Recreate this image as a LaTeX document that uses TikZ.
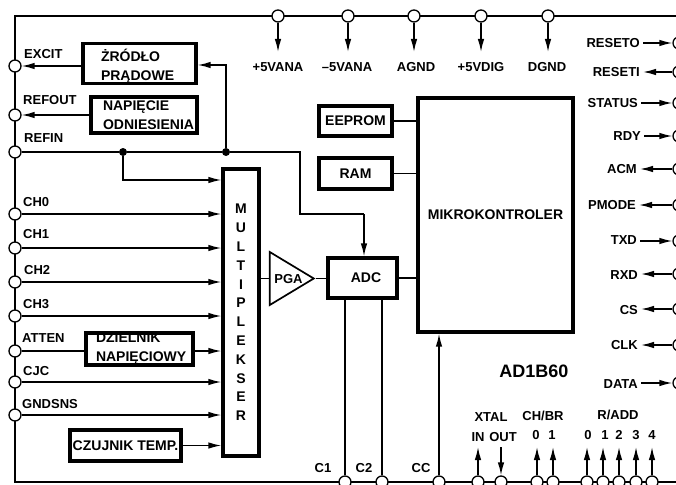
\documentclass[tikz,border=0pt]{standalone}
\usepackage{fontspec}
\setmainfont{Liberation Sans}
\usetikzlibrary{arrows.meta,shapes.geometric}
\begin{document}
\begin{tikzpicture}[
  x=1pt, y=-1pt,
  font=\fontsize{13}{15}\selectfont\bfseries,
  frame/.style={line width=1.7pt},
  port/.style={circle, draw, fill=white, line width=1.3pt, inner sep=0pt, minimum size=12pt},
  block/.style={draw, line width=3.3pt, inner sep=0pt, align=center, font=\fontsize{14}{19}\selectfont\bfseries},
  wire/.style={line width=1.4pt},
  arrow/.style={wire, -{Latex[length=13pt,width=6.5pt]}},
  joint/.style={circle, fill=black, inner sep=0pt, minimum size=8pt},
  signal/.style={inner sep=3pt, anchor=west},
  pinname/.style={inner sep=3pt, anchor=east},
]
\def\xleft{15}
\def\xright{679}
\def\ytop{16}
\def\ybot{482}

\path[use as bounding box] (0,0) rectangle (676,484);

% obudowa
\draw[frame] (676,\ytop) -- (\xleft,\ytop) -- (\xleft,\ybot) -- (676,\ybot);

% bloki
\node[block, align=left, text width=77pt, minimum width=113pt, minimum height=35pt] (zrodlo) at (139.5,63.5) {\rule{0pt}{18pt}ŻRÓDŁO\\\mbox{PRĄDOWE}};
\node[block, align=left, text width=82pt, minimum width=106pt, minimum height=36pt] (napiecie) at (144,115) {\mbox{NAPIĘCIE}\\\mbox{ODNIESIENIA}};
\node[block, align=left, text width=87pt, minimum width=107pt, minimum height=32pt] (dzielnik) at (139.5,349) {\mbox{DZIELNIK}\\\mbox{NAPIĘCIOWY}};
\node[block, minimum width=111pt, minimum height=31pt] (czujnik) at (125.5,445.5) {CZUJNIK TEMP.};
\node[block, minimum width=36pt, minimum height=287pt, font=\fontsize{14}{18.8}\selectfont\bfseries] (mux) at (241,312.5) {M\\U\\L\\T\\I\\P\\L\\E\\K\\S\\E\\R};
\node[draw, line width=1.7pt, isosceles triangle, isosceles triangle stretches, minimum height=44pt, minimum width=53pt, inner sep=0pt, anchor=apex] (pga) at (316,278.5) {};
\node[inner sep=0pt] (pgatext) at (288.5,279) {PGA};
\node[block, minimum width=69pt, minimum height=40pt] (adc) at (362.5,278) {\hspace*{7pt}ADC};
\node[block, minimum width=73pt, minimum height=30pt] (eeprom) at (355.5,121) {EEPROM};
\node[block, minimum width=73pt, minimum height=31pt] (ram) at (355.5,173.5) {RAM};
\node[block, minimum width=155pt, minimum height=234pt] (mikro) at (495.5,215) {MIKROKONTROLER};
\node[font=\fontsize{18}{20}\selectfont\bfseries] (typ) at (534,371) {AD1B60};

% piny u gory
\node[port] (pvana) at (278,\ytop) {};
\node[port] (mvana) at (348,\ytop) {};
\node[port] (agnd) at (414,\ytop) {};
\node[port] (vdig) at (481,\ytop) {};
\node[port] (dgnd) at (548,\ytop) {};
\coordinate (topend) at (0,52);
\node (lpvana) at (278,67) {+5VANA};
\node (lmvana) at (347,67) {–5VANA};
\node (lagnd) at (416,67) {AGND};
\node (lvdig) at (481,67) {+5VDIG};
\node (ldgnd) at (547,67) {DGND};

% piny z lewej
\node[port] (excit) at (\xleft,66) {};
\node[port] (refout) at (\xleft,115) {};
\node[port] (refin) at (\xleft,152) {};
\node[port] (chzero) at (\xleft,214) {};
\node[port] (chone) at (\xleft,248) {};
\node[port] (chtwo) at (\xleft,282) {};
\node[port] (chthree) at (\xleft,316) {};
\node[port] (atten) at (\xleft,351) {};
\node[port] (cjc) at (\xleft,382) {};
\node[port] (gndsns) at (\xleft,415) {};
\node[signal] (lexcit) at (21,54) {EXCIT};
\node[signal] (lrefout) at (20,100) {REFOUT};
\node[signal] (lrefin) at (21,138) {REFIN};
\node[signal] (lchzero) at (20,202) {CH0};
\node[signal] (lchone) at (20,234) {CH1};
\node[signal] (lchtwo) at (21,270) {CH2};
\node[signal] (lchthree) at (20,304) {CH3};
\node[signal] (latten) at (19,338) {ATTEN};
\node[signal] (lcjc) at (20,371) {CJC};
\node[signal] (lgndsns) at (19,404) {GNDSNS};

% piny z prawej
\node[port] (reseto) at (\xright,43) {};
\node[port] (reseti) at (\xright,72) {};
\node[port] (status) at (\xright,103) {};
\node[port] (rdy) at (\xright,136) {};
\node[port] (acm) at (\xright,169) {};
\node[port] (pmode) at (\xright,205) {};
\node[port] (txd) at (\xright,241) {};
\node[port] (rxd) at (\xright,274) {};
\node[port] (cs) at (\xright,309) {};
\node[port] (clk) at (\xright,345) {};
\node[port] (data) at (\xright,383) {};
\node[pinname] (lreseto) at (643,43) {RESETO};
\node[pinname] (lreseti) at (643,72) {RESETI};
\node[pinname] (lstatus) at (641,103) {STATUS};
\node[pinname] (lrdy) at (644,136) {RDY};
\node[pinname] (lacm) at (640,169) {ACM};
\node[pinname] (lpmode) at (639,205) {PMODE};
\node[pinname] (ltxd) at (640,240) {TXD};
\node[pinname] (lrxd) at (641,275) {RXD};
\node[pinname] (lcs) at (641,310) {CS};
\node[pinname] (lclk) at (641,345) {CLK};
\node[pinname] (ldata) at (641,384) {DATA};

% piny na dole
\node[port] (cone) at (345,\ybot) {};
\node[port] (ctwo) at (382,\ybot) {};
\node[port] (cc) at (439,\ybot) {};
\node[port] (xin) at (478,\ybot) {};
\node[port] (xout) at (501,\ybot) {};
\node[port] (brzero) at (537,\ybot) {};
\node[port] (brone) at (553,\ybot) {};
\node[port] (addzero) at (587,\ybot) {};
\node[port] (addone) at (603,\ybot) {};
\node[port] (addtwo) at (619,\ybot) {};
\node[port] (addthree) at (636,\ybot) {};
\node[port] (addfour) at (652,\ybot) {};
\coordinate (botend) at (0,447);
\node (lcone) at (323,468) {C1};
\node (lctwo) at (364,468) {C2};
\node (lcc) at (421,468) {CC};
\node (lxtal) at (491,417) {XTAL};
\node (lxin) at (478,437) {IN};
\node (lxout) at (503,437) {OUT};
\node (lchbr) at (543,416) {CH/BR};
\node (lbrzero) at (536,435) {0};
\node (lbrone) at (552,435) {1};
\node (lradd) at (618,415) {R/ADD};
\node (laddzero) at (588,435) {0};
\node (laddone) at (605,435) {1};
\node (laddtwo) at (619,435) {2};
\node (laddthree) at (636,435) {3};
\node (laddfour) at (652,435) {4};

% polaczenia wewnetrzne
\node[joint] (jmux) at (123,152) {};
\node[joint] (jsrc) at (226,152) {};
\coordinate (benda) at (300,152);
\coordinate (bendb) at (300,214);
\coordinate (bendc) at (364,214);
\coordinate (bendd) at (123,180);
\coordinate (bende) at (226,65);

\draw[wire] (refin) -- (jmux) -- (jsrc) -- (benda) -- (bendb) -- (bendc);
\draw[arrow] (bendc) -- (bendc |- adc.north);
\draw[arrow] (jmux) -- (bendd) -- (bendd -| mux.west);
\draw[arrow] (jsrc) -- (bende) -- (bende -| zrodlo.east);
\draw[arrow] (zrodlo.west |- excit) -- (excit);
\draw[arrow] (napiecie.west) -- (refout);

\draw[arrow] (chzero) -- (chzero -| mux.west);
\draw[arrow] (chone) -- (chone -| mux.west);
\draw[arrow] (chtwo) -- (chtwo -| mux.west);
\draw[arrow] (chthree) -- (chthree -| mux.west);
\draw[wire] (atten) -- (atten -| dzielnik.west);
\draw[arrow] (atten -| dzielnik.east) -- (atten -| mux.west);
\draw[arrow] (cjc) -- (cjc -| mux.west);
\draw[arrow] (gndsns) -- (gndsns -| mux.west);
\draw[arrow] (czujnik.east) -- (czujnik.east -| mux.west);

\draw[wire] (pga.apex -| mux.east) -- (pga.apex -| pga.west);
\draw[wire] (pga.apex) -- (pga.apex -| adc.west);
\draw[wire] (adc.east) -- (adc.east -| mikro.west);
\draw[wire] (eeprom.east) -- (eeprom.east -| mikro.west);
\draw[wire] (ram.east) -- (ram.east -| mikro.west);

\draw[wire] (cone) -- (cone |- adc.south);
\draw[wire] (ctwo) -- (ctwo |- adc.south);
\draw[arrow] (cc) -- (cc |- mikro.south);

% strzalki pinow
\draw[arrow] (pvana) -- (pvana |- topend);
\draw[arrow] (mvana) -- (mvana |- topend);
\draw[arrow] (agnd) -- (agnd |- topend);
\draw[arrow] (vdig) -- (vdig |- topend);
\draw[arrow] (dgnd) -- (dgnd |- topend);

\draw[arrow] (lreseto.east) -- (reseto);
\draw[arrow] (reseti) -- (lreseti.east);
\draw[arrow] (lstatus.east) -- (status);
\draw[arrow] (lrdy.east) -- (rdy);
\draw[arrow] (acm) -- (lacm.east);
\draw[arrow] (pmode) -- (lpmode.east);
\draw[arrow] (ltxd.east |- txd) -- (txd);
\draw[arrow] (rxd) -- (rxd -| lrxd.east);
\draw[arrow] (cs) -- (cs -| lcs.east);
\draw[arrow] (clk) -- (lclk.east);
\draw[arrow] (ldata.east |- data) -- (data);

\draw[arrow] (xin) -- (xin |- botend);
\draw[arrow] (xout |- botend) -- (xout);
\draw[arrow] (brzero) -- (brzero |- botend);
\draw[arrow] (brone) -- (brone |- botend);
\draw[arrow] (addzero) -- (addzero |- botend);
\draw[arrow] (addone) -- (addone |- botend);
\draw[arrow] (addtwo) -- (addtwo |- botend);
\draw[arrow] (addthree) -- (addthree |- botend);
\draw[arrow] (addfour) -- (addfour |- botend);
\end{tikzpicture}
\end{document}
